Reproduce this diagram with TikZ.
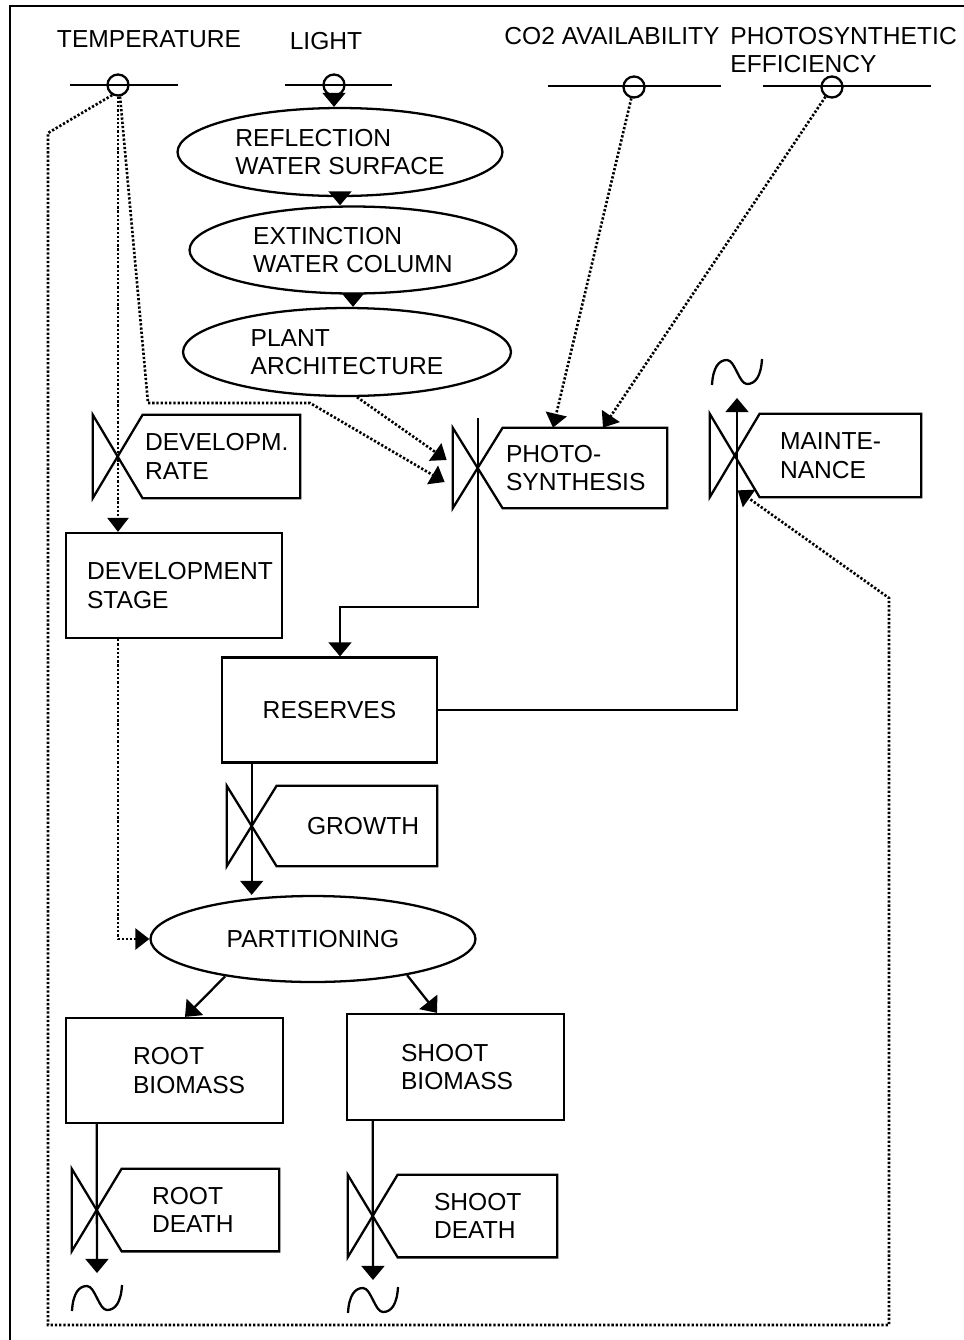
\documentclass[tikz,border=0pt]{standalone}
\usepackage{fontspec}
\setmainfont{Liberation Sans}
\usetikzlibrary{shapes.geometric,arrows.meta}
\hyphenpenalty=10000

\tikzset{
  box/.style={draw, rectangle, line width=1.3pt, align=left, inner sep=0pt},
  rate/.style={rectangle, align=left, inner sep=0pt},
  aux/.style={draw, ellipse, line width=1.3pt, align=left, inner sep=0pt},
  param/.style={draw, circle, line width=1.3pt, minimum size=0.42cm, inner sep=0pt},
  flow/.style={line width=1.3pt, -{Triangle[width=13pt,length=8pt]}},
  info/.style={line width=1.5pt, dash pattern=on 1.3pt off 1.1pt, -{Triangle[width=12pt,length=8pt]}},
}

\begin{document}
\begin{tikzpicture}[x=0.02cm, y=-0.02cm, font=\fontsize{14}{16.3}\selectfont]
        \useasboundingbox (0,0) rectangle (964,1340);
        % Frame
        \draw[line width=1.5pt] (10,1340) -- (10,6) -- (964,6);

        % Driving variables
        \node (templ) at (149,39) {TEMPERATURE};
        \node (lightl) at (326,41) {LIGHT};
        \node (co2l) at (612,36) {CO2 AVAILABILITY};
        \node[anchor=west, align=left, inner sep=0pt] (effl) at (730,50) {PHOTOSYNTHETIC\\EFFICIENCY};
        \draw[line width=1.3pt] (70,85) -- (178,85);
        \draw[line width=1.3pt] (285,85) -- (392,85);
        \draw[line width=1.3pt] (548,86) -- (721,86);
        \draw[line width=1.3pt] (763,86) -- (931,86);
        \node[param] (tempc) at (118,85) {};
        \node[param] (lightc) at (334,85) {};
        \node[param] (co2c) at (634,87) {};
        \node[param] (effc) at (832,87) {};

        % Light chain
        \node[aux, minimum width=6.5cm, minimum height=1.76cm] (reflect) at (340,152) {REFLECTION\\WATER SURFACE};
        \node[aux, minimum width=6.54cm, minimum height=1.74cm] (extinct) at (353,250) {EXTINCTION\\WATER COLUMN};
        \node[aux, minimum width=6.56cm, minimum height=1.76cm] (plant) at (347,352) {PLANT\\ARCHITECTURE};
        \draw[flow] (lightc) -- (lightc |- reflect.north);
        \draw[flow] (reflect.south) -- (reflect.south |- extinct.north);
        \draw[flow] (extinct.south) -- (extinct.south |- plant.north);

        % Rates with valves
        \node[rate, minimum width=3.14cm, minimum height=1.66cm, text width=3.06cm] (devrate) at (221.5,456.5) {DEVELOPM.\\RATE};
        \node[rate, minimum width=3.28cm, minimum height=1.6cm, text width=3.16cm] (photo) at (585,468) {PHOTO-\\SYNTHESIS};
        \node[rate, minimum width=3.22cm, minimum height=1.66cm, text width=2.42cm] (maint) at (840.5,455.5) {MAINTE-\\NANCE};
        \node[rate, minimum width=3.2cm, minimum height=1.6cm, text width=2cm] (growth) at (357,826) {GROWTH};
        \node[rate, minimum width=3.14cm, minimum height=1.64cm, text width=1.94cm] (rootd) at (200.5,1210) {ROOT\\DEATH};
        \node[rate, minimum width=3.18cm, minimum height=1.64cm, text width=1.74cm] (shootd) at (477.5,1216) {SHOOT\\DEATH};
        \foreach \r in {devrate,photo,maint,growth,rootd,shootd} {
          \draw[line width=1.3pt] (\r.south west) -- (\r.south east) -- (\r.north east) -- (\r.north west)
            -- ([xshift=-1cm]\r.south west) -- ([xshift=-1cm]\r.north west) -- cycle;
          \coordinate (\r v) at ([xshift=-0.5cm]\r.west);
        }

        % State variables
        \node[box, minimum width=4.32cm, minimum height=2.1cm, text width=3.48cm] (devstage) at (174,585.5) {DEVELOPMENT\\STAGE};
        \node[box, minimum width=4.3cm, minimum height=2.1cm] (reserves) at (329.5,710) {RESERVES};
        \node[aux, minimum width=6.5cm, minimum height=1.72cm] (partition) at (313,939) {PARTITIONING};
        \node[box, minimum width=4.34cm, minimum height=2.1cm, text width=1.66cm] (rootbio) at (174.5,1070.5) {ROOT\\BIOMASS};
        \node[box, minimum width=4.34cm, minimum height=2.12cm, text width=2.18cm] (shootbio) at (455.5,1067) {SHOOT\\BIOMASS};

        % Sinks
        \coordinate (maintsink) at (737,372);
        \coordinate (rootsink) at (97,1298);
        \coordinate (shootsink) at (373,1300);
        \foreach \s in {maintsink,rootsink,shootsink}
          \draw[line width=1.3pt, shift={(\s)}] (-25,13) .. controls (-24,-5) and (-18,-12) .. (-10,-12)
            .. controls (-2,-12) and (2,12) .. (10,12) .. controls (18,12) and (24,5) .. (25,-13);

        % Material flows
        \draw[flow] ([yshift=1cm]photov) -- ++(0,189) -| ([xshift=0.21cm]reserves.north);
        \draw[flow] (reserves.east) -| ([yshift=-0.52cm]maintsink);
        \draw[flow] (reserves.south -| growthv) -- (partition.north -| growthv);
        \draw[flow] (partition.203) -- ([xshift=0.21cm]rootbio.north);
        \draw[flow] (partition.339) -- ([xshift=-0.37cm]shootbio.north);
        \draw[flow] (rootbio.south -| rootdv) -- ([yshift=0.5cm]rootsink);
        \draw[flow] (shootbio.south -| shootdv) -- ([yshift=0.4cm]shootsink);

        % Information links
        \draw[info] (tempc) -- (tempc |- devstage.north);
        \draw[info] (tempc.-80) -- (148,403) -- (310,403) -- ([xshift=-1.16cm,yshift=-0.28cm]photo.west);
        \draw[info] ([xshift=0.2cm]plant.south) -- ([xshift=-1.12cm,yshift=0.16cm]photo.west);
        \draw[info] (co2c) -- ([xshift=-0.64cm]photo.north);
        \draw[info] (effc) -- ([xshift=0.36cm]photo.north);
        \draw[info] (tempc.-120) -- (48,133) -- (48,1325) -- (889,1325) -- (889,598) -- ([xshift=-0.44cm,yshift=0.14cm]maint.south west);
        \draw[info] ([xshift=-1.12cm]devstage.south) |- (partition.west);
\end{tikzpicture}
\end{document}
